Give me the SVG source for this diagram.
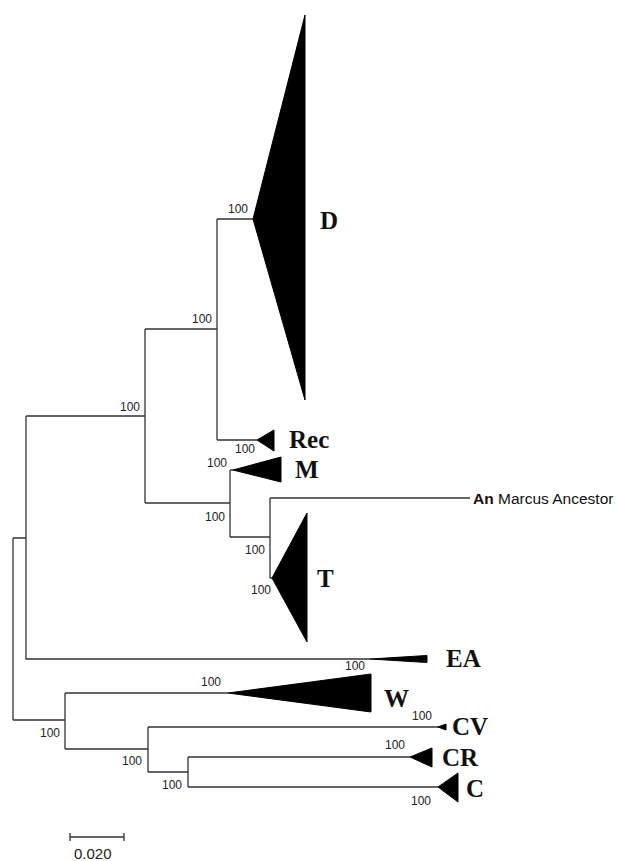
<svg xmlns="http://www.w3.org/2000/svg" width="617" height="861" viewBox="0 0 617 861">
  <style>
    .br { fill: none; stroke: #333; stroke-width: 1.3; }
    .clade { fill: #000; stroke: #000; stroke-width: 1; }
    .bs { font-family: "Liberation Sans", Arial, sans-serif; font-size: 12px; fill: #222; }
    .scale-label { font-family: "Liberation Sans", Arial, sans-serif; font-size: 15px; fill: #222; }
    .name { font-family: "Liberation Serif", "Times New Roman", serif; font-size: 25px; font-weight: bold; fill: #111; }
    .taxon { font-family: "Liberation Sans", Arial, sans-serif; font-size: 15.5px; fill: #111; }
  </style>
  <rect width="617" height="861" fill="#fff"/>

  <!-- branches -->
  <g id="connectors">
    <path class="br" d="M13,538 V720 M13,538 H26 M13,720 H65"/>
    <path class="br" d="M26,416 V659 H370 M26,416 H145"/>
    <path class="br" d="M145,329 V503 M145,329 H217 M145,503 H230"/>
    <path class="br" d="M217,219 V440 M217,219 H253 M217,440 H257"/>
    <path class="br" d="M230,470 V537 M230,470 H233 M230,537 H270"/>
    <path class="br" d="M270,498 V578 M270,498 H470 M270,578 H272"/>
    <path class="br" d="M65,693 V749 M65,693 H228 M65,749 H148"/>
    <path class="br" d="M148,727 V772 M148,727 H440 M148,772 H188"/>
    <path class="br" d="M188,757 V787 M188,757 H410 M188,787 H438"/>
  </g>

  <!-- collapsed clades -->
  <g id="clade-D">
    <polygon class="clade" points="253,219 305,15 305,400"/>
    <text class="name" x="320" y="229">D</text>
  </g>
  <g id="clade-Rec">
    <polygon class="clade" points="257,440 274,430 274,451"/>
    <text class="name" x="289" y="448">Rec</text>
  </g>
  <g id="clade-M">
    <polygon class="clade" points="233,470 281,457 281,482"/>
    <text class="name" x="295" y="478">M</text>
  </g>
  <g id="taxon-An">
    <text class="taxon" x="473" y="504"><tspan font-weight="bold">An</tspan> Marcus Ancestor</text>
  </g>
  <g id="clade-T">
    <polygon class="clade" points="272,578 307,513 307,642"/>
    <text class="name" x="317" y="587">T</text>
  </g>
  <g id="clade-EA">
    <polygon class="clade" points="370,659 427,655.5 427,662.5"/>
    <text class="name" x="446" y="667">EA</text>
  </g>
  <g id="clade-W">
    <polygon class="clade" points="228,693 371,674 371,712"/>
    <text class="name" x="384" y="707">W</text>
  </g>
  <g id="clade-CV">
    <polygon class="clade" points="438,727 446,724 446,730"/>
    <text class="name" x="452" y="735">CV</text>
  </g>
  <g id="clade-CR">
    <polygon class="clade" points="410,757 432,748 432,767"/>
    <text class="name" x="442" y="766">CR</text>
  </g>
  <g id="clade-C">
    <polygon class="clade" points="438,787 458,773 458,802"/>
    <text class="name" x="466" y="797">C</text>
  </g>

  <!-- bootstrap values -->
  <g id="support">
    <text class="bs" x="228" y="213">100</text>
    <text class="bs" x="192" y="323">100</text>
    <text class="bs" x="120" y="411">100</text>
    <text class="bs" x="235" y="453">100</text>
    <text class="bs" x="207" y="467">100</text>
    <text class="bs" x="205" y="521">100</text>
    <text class="bs" x="245" y="554">100</text>
    <text class="bs" x="251" y="594">100</text>
    <text class="bs" x="345" y="670">100</text>
    <text class="bs" x="201" y="686">100</text>
    <text class="bs" x="412" y="720">100</text>
    <text class="bs" x="385" y="749">100</text>
    <text class="bs" x="40" y="737">100</text>
    <text class="bs" x="122" y="765">100</text>
    <text class="bs" x="162" y="789">100</text>
    <text class="bs" x="411" y="805">100</text>
  </g>

  <!-- scale bar -->
  <g id="scale">
    <path class="br" d="M70,837 H124 M70,833 V841 M124,833 V841"/>
    <text class="scale-label" x="74" y="859">0.020</text>
  </g>
</svg>
